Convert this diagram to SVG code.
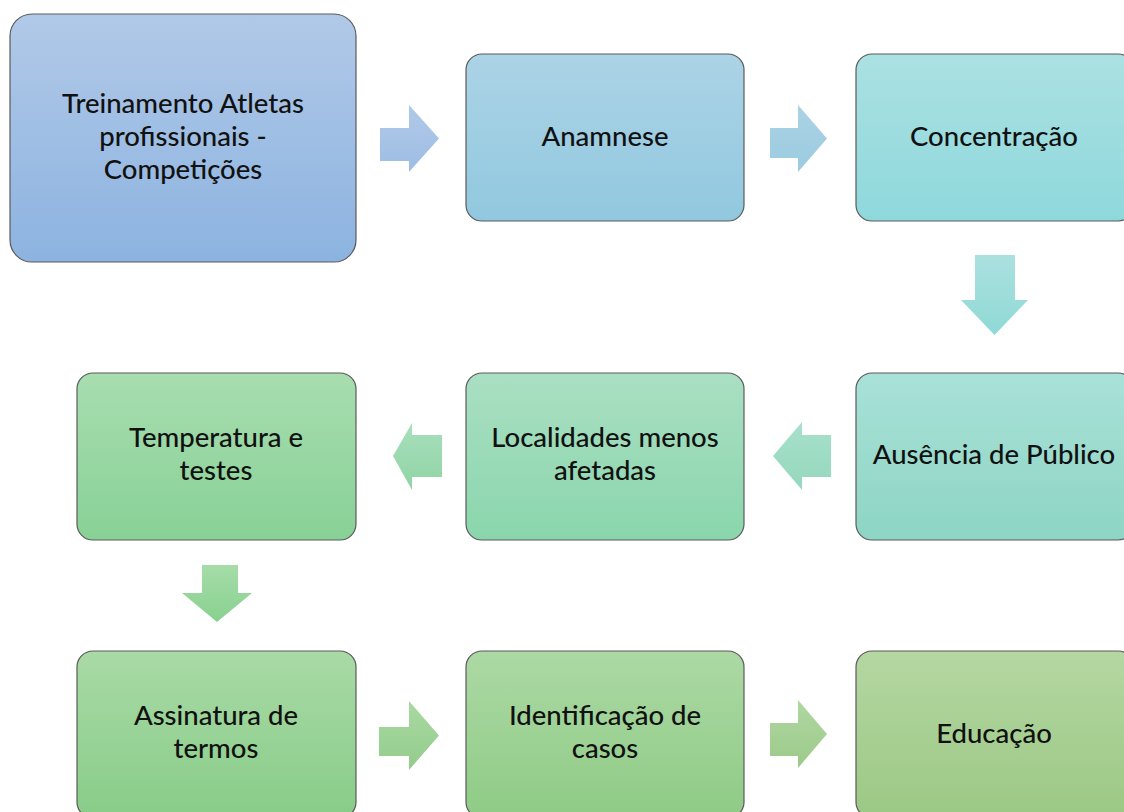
<svg xmlns="http://www.w3.org/2000/svg" width="1124" height="812" viewBox="0 0 1124 812">
<style>
.box{stroke:#5a5a5a;stroke-width:1.2}
.lbl{font-family:Lato,"Liberation Sans",Arial,sans-serif;font-size:27.5px;font-weight:500;fill:#111;text-anchor:middle}
</style>
<defs>
<linearGradient id="g1" x1="0" y1="0" x2="0" y2="1"><stop offset="0" stop-color="#b1c9e8"/><stop offset="1" stop-color="#8cb3e0"/></linearGradient>
<linearGradient id="g2" x1="0" y1="0" x2="0" y2="1"><stop offset="0" stop-color="#acd3e6"/><stop offset="1" stop-color="#91c8df"/></linearGradient>
<linearGradient id="g3" x1="0" y1="0" x2="0" y2="1"><stop offset="0" stop-color="#abe1e2"/><stop offset="1" stop-color="#8ed8dc"/></linearGradient>
<linearGradient id="g4" x1="0" y1="0" x2="0" y2="1"><stop offset="0" stop-color="#a9e1d8"/><stop offset="1" stop-color="#8dd5c4"/></linearGradient>
<linearGradient id="g5" x1="0" y1="0" x2="0" y2="1"><stop offset="0" stop-color="#aadfc3"/><stop offset="1" stop-color="#8ad6ac"/></linearGradient>
<linearGradient id="g6" x1="0" y1="0" x2="0" y2="1"><stop offset="0" stop-color="#a8ddb0"/><stop offset="1" stop-color="#88d196"/></linearGradient>
<linearGradient id="g7" x1="0" y1="0" x2="0" y2="1"><stop offset="0" stop-color="#a9daa6"/><stop offset="1" stop-color="#88cc88"/></linearGradient>
<linearGradient id="g8" x1="0" y1="0" x2="0" y2="1"><stop offset="0" stop-color="#acd9a4"/><stop offset="1" stop-color="#8fcb86"/></linearGradient>
<linearGradient id="g9" x1="0" y1="0" x2="0" y2="1"><stop offset="0" stop-color="#b5d7a2"/><stop offset="1" stop-color="#9bc884"/></linearGradient>
<linearGradient id="a1" x1="0" y1="0" x2="0" y2="1"><stop offset="0" stop-color="#b1c9e8"/><stop offset="1" stop-color="#9dbde3"/></linearGradient>
<linearGradient id="a2" x1="0" y1="0" x2="0" y2="1"><stop offset="0" stop-color="#acd2e4"/><stop offset="1" stop-color="#9bcbe0"/></linearGradient>
<linearGradient id="a3" x1="0" y1="0" x2="0" y2="1"><stop offset="0" stop-color="#abe1df"/><stop offset="1" stop-color="#8fd9d6"/></linearGradient>
<linearGradient id="a4" x1="0" y1="0" x2="0" y2="1"><stop offset="0" stop-color="#a8e0cc"/><stop offset="1" stop-color="#94d8bc"/></linearGradient>
<linearGradient id="a5" x1="0" y1="0" x2="0" y2="1"><stop offset="0" stop-color="#a8dfbd"/><stop offset="1" stop-color="#90d4a4"/></linearGradient>
<linearGradient id="a6" x1="0" y1="0" x2="0" y2="1"><stop offset="0" stop-color="#a6dca8"/><stop offset="1" stop-color="#88d190"/></linearGradient>
<linearGradient id="a7" x1="0" y1="0" x2="0" y2="1"><stop offset="0" stop-color="#a8d9a2"/><stop offset="1" stop-color="#94cc8c"/></linearGradient>
<linearGradient id="a8" x1="0" y1="0" x2="0" y2="1"><stop offset="0" stop-color="#b0d7a2"/><stop offset="1" stop-color="#9cca8a"/></linearGradient>
</defs>

<g id="connectors">
<polygon fill="url(#a1)" points="380,128 409,128 409,105 439,138.5 409,172 409,161 380,161"/>
<polygon fill="url(#a2)" points="770,128 798,128 798,105 827,138.5 798,172 798,158 770,158"/>
<polygon fill="url(#a3)" points="975,255 1015,255 1015,300 1028,300 994.5,335 961,300 975,300"/>
<polygon fill="url(#a4)" points="831,435 802,435 802,422 773,456 802,490 802,477 831,477"/>
<polygon fill="url(#a5)" points="442,435 412,435 412,423 393,456 412,490 412,477 442,477"/>
<polygon fill="url(#a6)" points="202,565 238,565 238,593 252,593 217,622 182,593 202,593"/>
<polygon fill="url(#a7)" points="379,727 409,727 409,701 439,735.5 409,770 409,756 379,756"/>
<polygon fill="url(#a8)" points="770,723 798,723 798,700 827,734 798,768 798,756 770,756"/>
</g>

<g id="node-treinamento">
<rect class="box" x="10" y="14" width="346" height="248" rx="22" fill="url(#g1)"/>
<text class="lbl" x="183" y="113">Treinamento Atletas</text>
<text class="lbl" x="183" y="146">profissionais -</text>
<text class="lbl" x="183" y="179">Competições</text>
</g>
<g id="node-anamnese">
<rect class="box" x="466" y="54" width="278" height="167" rx="16" fill="url(#g2)"/>
<text class="lbl" x="605" y="146">Anamnese</text>
</g>
<g id="node-concentracao">
<rect class="box" x="856" y="54" width="278" height="167" rx="16" fill="url(#g3)"/>
<text class="lbl" x="994" y="146">Concentração</text>
</g>
<g id="node-ausencia">
<rect class="box" x="856" y="373" width="278" height="167" rx="16" fill="url(#g4)"/>
<text class="lbl" x="994" y="464">Ausência de Público</text>
</g>
<g id="node-localidades">
<rect class="box" x="466" y="373" width="278" height="167" rx="16" fill="url(#g5)"/>
<text class="lbl" x="605" y="447">Localidades menos</text>
<text class="lbl" x="605" y="480">afetadas</text>
</g>
<g id="node-temperatura">
<rect class="box" x="77" y="373" width="279" height="167" rx="16" fill="url(#g6)"/>
<text class="lbl" x="216" y="447">Temperatura e</text>
<text class="lbl" x="216" y="480">testes</text>
</g>
<g id="node-assinatura">
<rect class="box" x="77" y="651" width="279" height="167" rx="16" fill="url(#g7)"/>
<text class="lbl" x="216" y="725">Assinatura de</text>
<text class="lbl" x="216" y="758">termos</text>
</g>
<g id="node-identificacao">
<rect class="box" x="466" y="651" width="278" height="167" rx="16" fill="url(#g8)"/>
<text class="lbl" x="605" y="725">Identificação de</text>
<text class="lbl" x="605" y="758">casos</text>
</g>
<g id="node-educacao">
<rect class="box" x="856" y="651" width="278" height="167" rx="16" fill="url(#g9)"/>
<text class="lbl" x="994" y="743">Educação</text>
</g>
</svg>
